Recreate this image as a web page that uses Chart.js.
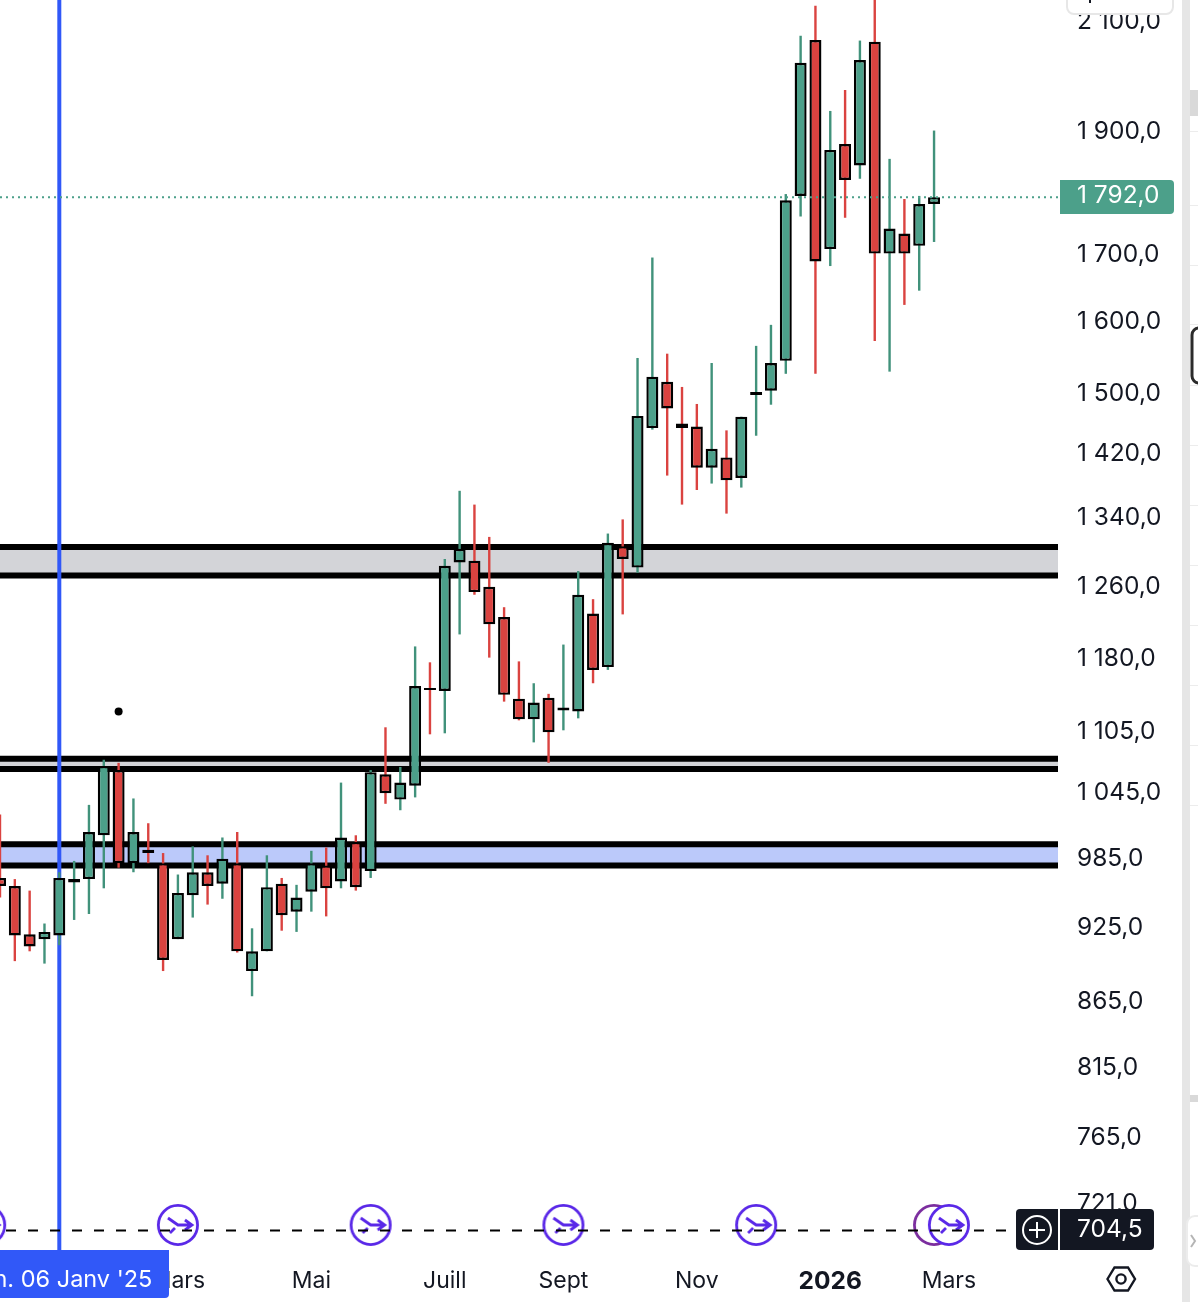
<!DOCTYPE html>
<html lang="fr">
<head>
<meta charset="utf-8">
<title>Graphique hebdomadaire</title>
<script src="https://cdn.jsdelivr.net/npm/chart.js@4/dist/chart.umd.min.js"></script>
<style>
    html, body { margin: 0; padding: 0; background: #fff; overflow: hidden; }
    #box { position: relative; width: 1198px; height: 1302px; }
    canvas { display: block; }
</style>
</head>
<body>
<div id="box"><canvas id="chart" width="1198" height="1302"></canvas></div>
<script>
// weekly candles, left to right
const opens = [966, 959, 918, 914, 917, 962, 965, 1004, 1065, 979, 991, 979, 914, 951, 971, 961, 979, 888, 904, 961, 937, 954, 977, 963, 998, 972, 1061, 1037, 1050, 1147, 1144, 1285, 1287, 1257, 1223, 1136, 1115, 1137, 1124, 1123, 1227, 1169, 1304, 1279, 1451, 1513, 1457, 1453, 1400, 1413, 1387, 1495, 1501, 1542, 1790, 2061, 1706, 1876, 1840, 2058, 1699, 1730, 1711, 1777];
const highs = [1023, 965, 955, 927, 971, 981, 1032, 1075, 1072, 1038, 1015, 988, 969, 994, 986, 1002, 1007, 923, 986, 966, 960, 990, 993, 1053, 1004, 1065, 1107, 1068, 1191, 1174, 1289, 1371, 1354, 1315, 1234, 1175, 1152, 1141, 1193, 1275, 1243, 1319, 1336, 1546, 1693, 1552, 1506, 1483, 1539, 1448, 1466, 1563, 1593, 1793, 2069, 2126, 1933, 1970, 2060, 2150, 1851, 1785, 1790, 1899];
const lows = [949, 896, 904, 894, 909, 930, 935, 957, 975, 971, 979, 888, 914, 932, 943, 948, 903, 868, 904, 921, 920, 937, 933, 957, 955, 966, 1033, 1027, 1039, 1100, 1101, 1204, 1248, 1179, 1133, 1114, 1092, 1072, 1104, 1116, 1152, 1166, 1226, 1273, 1449, 1390, 1354, 1372, 1380, 1343, 1375, 1441, 1482, 1524, 1757, 1524, 1680, 1755, 1818, 1570, 1527, 1622, 1643, 1717];
const closes = [959, 917, 908, 920, 966, 965, 1007, 1069, 979, 1007, 988, 897, 953, 971, 959, 983, 904, 904, 958, 934, 949, 979, 957, 1002, 958, 1063, 1043, 1053, 1149, 1145, 1281, 1301, 1251, 1215, 1140, 1115, 1132, 1102, 1127, 1248, 1166, 1308, 1289, 1467, 1520, 1477, 1451, 1400, 1424, 1384, 1466, 1499, 1539, 1783, 2019, 1687, 1866, 1816, 2024, 1699, 1738, 1699, 1777, 1788];

const priceTicks = [2100, 1900, 1700, 1600, 1500, 1420, 1340, 1260, 1180, 1105, 1045, 985, 925, 865, 815, 765, 721];
const monthTicks = [12, 21, 30, 38, 47, 56, 64];
const monthLabels = ['Mars', 'Mai', 'Juill', 'Sept', 'Nov', '2026', 'Mars'];

const greyZone = [1303, 1270];
const thinZone = [1076, 1066];
const blueZone = [996, 977];

const selectedWeek = 4;
const selectedLabel = "Lun. 06 Janv '25";
const lastLevel = 1788;
const lastLabel = '1 792,0';
const cursorLevel = 702.2;
const cursorLabel = '704,5';
const dotWeek = 8;
const dotLevel = 1123;
const eventWeeks = [-1, 12, 25, 38, 51, 63, 64];
const eventColors = ['#5a28e8', '#5a28e8', '#5a28e8', '#5a28e8', '#5a28e8', '#7b2d9e', '#5a28e8'];
const eventLevel = 705.8;

const UP = '#4ca08a', UP_WICK = '#41927b', DOWN = '#da4340', INK = '#131722', BLUE = '#3158f8';
const PLAIN_EVENT = '#7b2d9e';
const FONT = 'Inter, sans-serif';

const candleColor = i => closes[i] >= opens[i] ? UP : DOWN;
const wickColor = i => closes[i] >= opens[i] ? UP_WICK : DOWN;

const hLine = (y, extra) => Object.assign({
    type: 'line',
    data: [{ x: 0, y }, { x: 72, y }],
    borderColor: '#000',
    borderWidth: 6,
    pointRadius: 0,
    fill: false
}, extra);

// the lower edge has to be painted after the fill of the upper one
function zone(levels, color) {
    return [
        hLine(levels[0], { fill: '+1', backgroundColor: color, order: 8 }),
        hLine(levels[1], { order: 7 })
    ];
}

function eventIcon(color) {
    const c = document.createElement('canvas');
    c.width = 46;
    c.height = 46;
    const g = c.getContext('2d');
    g.translate(23, 23);
    g.beginPath();
    g.arc(0, 0, 19.6, 0, Math.PI * 2);
    g.fillStyle = '#fff';
    g.fill();
    g.lineWidth = 2.8;
    g.strokeStyle = color;
    g.stroke();
    if (color === PLAIN_EVENT) return c;
    g.beginPath();
    g.moveTo(-10, -7); g.lineTo(0, 0); g.lineTo(14, 0);
    g.moveTo(7, -5); g.lineTo(14, 0); g.lineTo(7, 5);
    g.moveTo(-8, 8); g.lineTo(-3, 3);
    g.stroke();
    return c;
}

function roundBox(g, x, y, w, h, r, fill, stroke) {
    g.beginPath();
    g.roundRect(x, y, w, h, r);
    if (fill) { g.fillStyle = fill; g.fill(); }
    if (stroke) { g.strokeStyle = stroke; g.stroke(); }
}

function noPadding(s) {
    s.paddingLeft = s.paddingRight = s.paddingTop = s.paddingBottom = 0;
}

// everything around the plot that is not a scale: price badges, date badge, side strip
const overlay = {
    id: 'overlay',
    afterDraw(chart) {
        const g = chart.ctx;
        const x = chart.scales.x;
        g.save();

        // side strip
        g.fillStyle = '#e6e6e6';
        g.fillRect(1182, 0, 8, 1302);
        g.fillStyle = '#d9d9d9';
        g.fillRect(1190, 90, 8, 26);
        g.fillRect(1190, 1095, 8, 7);
        g.fillStyle = '#ececec';
        [131, 205, 265, 324, 385, 445, 505, 565, 625, 685, 745, 805].forEach(ly => g.fillRect(1190, ly, 8, 1));
        g.lineWidth = 3;
        roundBox(g, 1192, 328, 20, 55, 7, '#fff', '#2b2b2b');
        g.lineWidth = 2;
        roundBox(g, 1187, 1216, 20, 50, 8, '#fff', '#ececec');
        g.strokeStyle = '#b5b5b5';
        g.beginPath();
        g.moveTo(1191, 1235); g.lineTo(1195, 1241); g.lineTo(1191, 1247);
        g.stroke();

        // top-right button
        g.lineWidth = 2;
        roundBox(g, 1067, -20, 106, 34, 7, '#fff', '#e7e7e7');
        g.fillStyle = INK;
        g.fillRect(1089, 0, 2, 3);

        g.textBaseline = 'middle';
        g.textAlign = 'left';
        g.font = '24.5px ' + FONT;

        // last price badge
        roundBox(g, 1060, 180, 114, 34, [0, 4, 4, 0], UP);
        g.fillStyle = '#fff';
        g.fillText(lastLabel, 1077, 196);

        // cursor price badge
        roundBox(g, 1016, 1209, 42, 41, [4, 0, 0, 4], '#131722');
        roundBox(g, 1060, 1209, 94, 41, [0, 4, 4, 0], '#131722');
        g.fillStyle = '#fff';
        g.fillText(cursorLabel, 1077, 1230);
        g.strokeStyle = '#fff';
        g.lineWidth = 2;
        g.beginPath();
        g.arc(1037, 1230, 14, 0, Math.PI * 2);
        g.moveTo(1029, 1230); g.lineTo(1045, 1230);
        g.moveTo(1037, 1222); g.lineTo(1037, 1238);
        g.stroke();

        // date badge under the selected week
        const sx = x.getPixelForValue(selectedWeek);
        roundBox(g, -10, 1250, 179, 48, [0, 0, 4, 0], BLUE);
        g.fillStyle = '#fff';
        g.textAlign = 'center';
        g.font = '23.5px ' + FONT;
        g.fillText(selectedLabel, sx, 1280);

        // settings hexagon
        g.strokeStyle = INK;
        g.lineWidth = 2.4;
        g.beginPath();
        g.moveTo(1107.5, 1279); g.lineTo(1114.5, 1267.5); g.lineTo(1128, 1267.5);
        g.lineTo(1135, 1279); g.lineTo(1128, 1290.5); g.lineTo(1114.5, 1290.5);
        g.closePath();
        g.moveTo(1126, 1279);
        g.arc(1121, 1279, 4.6, 0, Math.PI * 2);
        g.stroke();

        g.restore();
    }
};

const weeks = opens.map((_, i) => i);

new Chart(document.getElementById('chart'), {
    type: 'bar',
    plugins: [overlay],
    data: {
        datasets: [
            ...zone(greyZone, '#d3d4d8'),
            ...zone(thinZone, '#d3d4d8'),
            ...zone(blueZone, '#bbc9fa'),
            {
                type: 'line',
                data: [{ x: selectedWeek, y: 600 }, { x: selectedWeek, y: 2400 }],
                borderColor: BLUE,
                borderWidth: 4,
                pointRadius: 0,
                fill: false,
                order: 6
            },
            {
                data: weeks.map(i => ({ x: i, y: [lows[i], highs[i]] })),
                backgroundColor: weeks.map(wickColor),
                borderWidth: 0,
                barThickness: 2.4,
                grouped: false,
                inflateAmount: 0,
                order: 5
            },
            {
                data: weeks.map(i => ({ x: i, y: [opens[i], closes[i]] })),
                backgroundColor: weeks.map(candleColor),
                borderColor: '#000',
                borderWidth: 2.4,
                borderSkipped: false,
                barThickness: 12,
                grouped: false,
                inflateAmount: 0,
                order: 4
            },
            {
                type: 'line',
                data: [{ x: dotWeek, y: dotLevel }],
                showLine: false,
                pointRadius: 4,
                pointBackgroundColor: '#000',
                pointBorderWidth: 0,
                order: 3
            },
            {
                type: 'line',
                data: eventWeeks.map(x => ({ x, y: eventLevel })),
                showLine: false,
                pointRadius: 23,
                pointStyle: eventColors.map(eventIcon),
                clip: false,
                order: 2
            },
            {
                type: 'line',
                data: [{ x: 0, y: lastLevel }, { x: 72, y: lastLevel }],
                borderColor: '#4ca08a',
                borderWidth: 2,
                borderDash: [2, 4],
                pointRadius: 0,
                fill: false,
                order: 1
            },
            {
                type: 'line',
                data: [{ x: 0, y: cursorLevel }, { x: 67.86, y: cursorLevel }],
                borderColor: '#000',
                borderWidth: 2,
                borderDash: [10, 12],
                borderDashOffset: 16,
                pointRadius: 0,
                fill: false,
                order: 0
            }
        ]
    },
    options: {
        responsive: false,
        animation: false,
        devicePixelRatio: 1,
        events: [],
        layout: { padding: 0, autoPadding: false },
        plugins: { legend: { display: false }, tooltip: { enabled: false } },
        scales: {
            x: {
                type: 'linear',
                offset: false,
                min: 0,
                max: 71.36,
                grid: { display: false, drawTicks: false },
                border: { display: false },
                afterBuildTicks: s => { s.ticks = monthTicks.map(value => ({ value })); },
                afterFit: s => { s.height = 52; noPadding(s); },
                ticks: {
                    autoSkip: false,
                    maxRotation: 0,
                    padding: 17,
                    color: INK,
                    font: c => c.tick && c.tick.value === 56
                        ? { family: 'Inter, sans-serif', size: 24.5, weight: 'bold' }
                        : { family: 'Inter, sans-serif', size: 23, weight: 'normal' },
                    callback: v => monthLabels[monthTicks.indexOf(v)]
                }
            },
            y: {
                type: 'logarithmic',
                position: 'right',
                min: 690,
                max: 2137,
                grid: { display: false, drawTicks: false },
                border: { display: false },
                afterBuildTicks: s => { s.ticks = priceTicks.map(value => ({ value })); },
                afterFit: s => { s.width = 140; noPadding(s); },
                ticks: {
                    autoSkip: false,
                    padding: 19,
                    labelOffset: 2,
                    color: INK,
                    font: { family: 'Inter, sans-serif', size: 24.5 },
                    callback: v => v.toLocaleString('fr-FR', { minimumFractionDigits: 1, maximumFractionDigits: 1 }).replace(/[\u202f\u00a0]/g, ' ')
                }
            }
        }
    }
});
</script>
</body>
</html>
